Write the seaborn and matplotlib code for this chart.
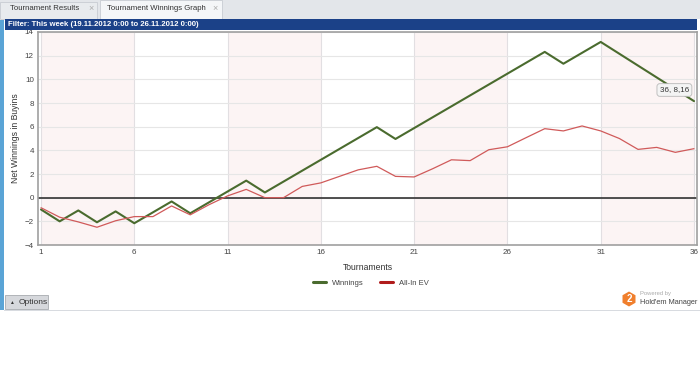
import matplotlib
matplotlib.use("Agg")
import matplotlib.pyplot as plt
import matplotlib.patches as mpatches
import seaborn as sns
import pandas as pd

tournaments = list(range(1, 37))
winnings = [-1.0, -2.0, -1.08, -2.08, -1.16, -2.16, -1.24, -0.32, -1.32, -0.4,
            0.52, 1.44, 0.44, 1.36, 2.28, 3.2, 4.12, 5.04, 5.96, 4.96,
            5.88, 6.8, 7.72, 8.64, 9.56, 10.48, 11.4, 12.32, 11.32, 12.24,
            13.16, 12.16, 11.16, 10.16, 9.16, 8.16]
allin_ev = [-0.85, -1.65, -2.05, -2.5, -1.95, -1.6, -1.6, -0.7, -1.45, -0.6,
            0.15, 0.7, 0.0, 0.0, 0.95, 1.25, 1.8, 2.35, 2.65, 1.8,
            1.75, 2.45, 3.2, 3.13, 4.05, 4.3, 5.07, 5.83, 5.64, 6.06,
            5.64, 5.0, 4.08, 4.25, 3.83, 4.14]
series_names = ["Winnings", "All-In EV"]
series_colors = ["#4a6b2e", "#d05a5a"]
legend_colors = ["#4a6b2e", "#b01c1c"]
xticks = [1, 6, 11, 16, 21, 26, 31, 36]
yticks = [-4, -2, 0, 2, 4, 6, 8, 10, 12, 14]

df = pd.DataFrame({
    "Tournament": tournaments * 2,
    "Value": winnings + allin_ev,
    "Series": [series_names[0]] * len(tournaments) + [series_names[1]] * len(tournaments),
})

sns.set_theme(style="white")
plt.rcParams["font.family"] = ["Liberation Sans", "DejaVu Sans"]

W, H = 700, 383
fig = plt.figure(figsize=(7, 3.83), dpi=100)
fig.patch.set_facecolor("white")

def fx(px):
    return px / W

def fy(py):
    return 1 - py / H

# Window chrome
fig.patches.append(mpatches.Rectangle((0, fy(19)), 1, 19 / H, transform=fig.transFigure,
                                      facecolor="#e3e6ea", edgecolor="none", zorder=0))
fig.patches.append(mpatches.Rectangle((fx(0), fy(19)), 97 / W, 17 / H, transform=fig.transFigure,
                                      facecolor="#e8ebee", edgecolor="#c8ccd2", lw=0.6, zorder=1))
fig.patches.append(mpatches.Rectangle((fx(100), fy(19)), 122 / W, 19 / H, transform=fig.transFigure,
                                      facecolor="#f4f6f8", edgecolor="#c8ccd2", lw=0.6, zorder=1))
fig.text(fx(10), fy(9), "Tournament Results", fontsize=5.6, color="#333333", va="center")
fig.text(fx(88), fy(9), "×", fontsize=6.5, color="#aaaaaa", va="center")
fig.text(fx(107), fy(9), "Tournament Winnings Graph", fontsize=5.6, color="#333333", va="center")
fig.text(fx(212), fy(9), "×", fontsize=6.5, color="#aaaaaa", va="center")
fig.patches.append(mpatches.Rectangle((fx(5), fy(29.5)), 692 / W, 10.5 / H, transform=fig.transFigure,
                                      facecolor="#1b4188", edgecolor="none", zorder=1))
fig.text(fx(8), fy(24.5), "Filter: This week (19.11.2012 0:00 to 26.11.2012 0:00)", fontsize=5.6,
         color="white", va="center", fontweight="bold")
fig.patches.append(mpatches.Rectangle((0, fy(310)), 4 / W, 290 / H, transform=fig.transFigure,
                                      facecolor="#5aa4d6", edgecolor="none", zorder=1))
fig.patches.append(mpatches.Rectangle((fx(4), fy(311)), 696 / W, 1.2 / H, transform=fig.transFigure,
                                      facecolor="#d8dbe0", edgecolor="none", zorder=1))
# Options button
fig.patches.append(mpatches.Rectangle((fx(5), fy(309)), 43 / W, 14 / H, transform=fig.transFigure,
                                      facecolor="#d6d8dc", edgecolor="#a8abb0", lw=0.6, zorder=1))
fig.text(fx(9), fy(302), "▲", fontsize=3.5, color="#333333", va="center")
fig.text(fx(19), fy(302), "Options", fontsize=6, color="#333333", va="center")

# Logo (pixel coordinates)
fig.patches.append(mpatches.RegularPolygon((629, H - 299), 6, radius=7.5, transform=None,
                                           facecolor="#f07f2d", edgecolor="none", zorder=1))
fig.text(fx(629), fy(299), "2", fontsize=7, color="white", ha="center", va="center", fontweight="bold")
fig.text(fx(640), fy(294), "Powered by", fontsize=4.2, color="#aaaaaa", va="center")
fig.text(fx(640), fy(302.5), "Hold'em Manager", fontsize=5.3, color="#444444", va="center")

# Main axes
ax = fig.add_axes([fx(38), fy(245), (697 - 38) / W, (245 - 32) / H])
x_lo = 1 - 3 / 18.657
x_hi = 36 + 3 / 18.657
ax.set_xlim(x_lo, x_hi)
ax.set_ylim(-4, 14)
for start in [1, 11, 21, 31]:
    ax.axvspan(start, start + 5, color="#fcf4f4", zorder=0, lw=0)
for t in xticks:
    ax.axvline(t, color="#e2dfe2", lw=0.8, zorder=1)
for t in yticks:
    ax.axhline(t, color="#e6e6e6", lw=0.8, zorder=1)
ax.axhline(0, color="#333333", lw=1.2, zorder=2)

sns.lineplot(data=df, x="Tournament", y="Value", hue="Series", palette=series_colors,
             ax=ax, legend=False, zorder=3)
ax.lines[-2].set_linewidth(1.5)
ax.lines[-1].set_linewidth(0.9)

ax.set_xticks(xticks)
ax.set_yticks(yticks)
ax.tick_params(axis="both", labelsize=5.8, colors="#444444", length=0, pad=3)
ax.set_xlabel("Tournaments", fontsize=6.2, color="#333333", labelpad=5)
ax.set_ylabel("Net Winnings in Buyins", fontsize=6.2, color="#333333")
ax.yaxis.set_label_coords((20 - 38) / 659, 0.5)
for sp in ax.spines.values():
    sp.set_color("#a0a0a0")
    sp.set_linewidth(1.2)

ax.annotate("36, 8,16", xy=(36, 8.16), xytext=(34.95, 9.1), fontsize=5.8, color="#333333",
            ha="center", va="center",
            bbox=dict(boxstyle="round,pad=0.35", facecolor="#f4f4f4", edgecolor="#b8b8b8", lw=0.6),
            zorder=5)

# Legend
handles = [plt.Line2D([0], [0], color=c, lw=2.2) for c in legend_colors]
fig.legend(handles, series_names, loc="center", bbox_to_anchor=(fx(371), fy(283)), ncol=2,
           frameon=False, fontsize=5.5, handlelength=1.6, columnspacing=2.2, handletextpad=0.8,
           labelcolor="#444444")

fig.savefig("out.png", dpi=100)
